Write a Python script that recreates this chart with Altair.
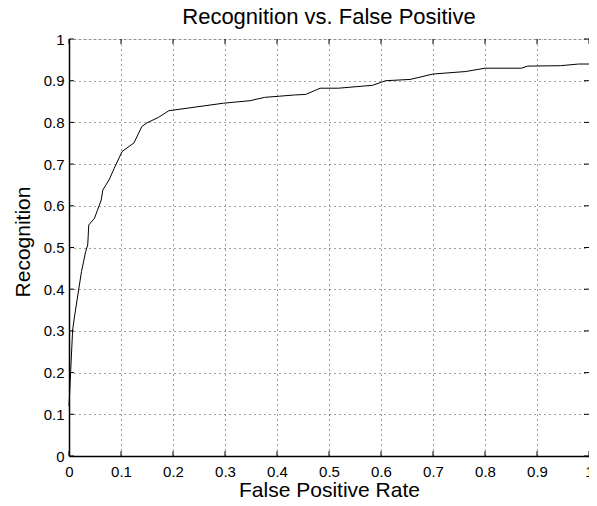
import altair as alt
import pandas as pd

fpr = [0.0, 0.007, 0.011, 0.024, 0.032, 0.036, 0.038, 0.049, 0.062, 0.065, 0.077, 0.087,
       0.102, 0.125, 0.140, 0.150, 0.172, 0.192, 0.297, 0.348, 0.376, 0.436, 0.455, 0.483,
       0.518, 0.584, 0.609, 0.656, 0.700, 0.763, 0.800, 0.870, 0.882, 0.945, 0.980, 1.0]
rec = [0.12, 0.302, 0.338, 0.442, 0.49, 0.506, 0.554, 0.570, 0.614, 0.638, 0.662, 0.690,
       0.730, 0.751, 0.790, 0.799, 0.812, 0.828, 0.846, 0.852, 0.860, 0.866, 0.867, 0.882,
       0.882, 0.889, 0.900, 0.903, 0.916, 0.922, 0.930, 0.930, 0.935, 0.936, 0.940, 0.940]
tick_values = [0, 0.1, 0.2, 0.3, 0.4, 0.5, 0.6, 0.7, 0.8, 0.9, 1.0]

W, H = 520, 417
FONT = "Liberation Sans"

df = pd.DataFrame({"fpr": fpr, "rec": rec})
ticks = pd.DataFrame({"t": tick_values})

xs = alt.Scale(domain=[0, 1], nice=False)
ys = alt.Scale(domain=[0, 1], nice=False)

line = alt.Chart(df).mark_line(color="black", strokeWidth=1).encode(
    x=alt.X("fpr:Q", scale=xs,
            axis=alt.Axis(values=tick_values, format="~g", title="False Positive Rate",
                          grid=True, gridDash=[1, 4], gridColor="#000", gridOpacity=0.75,
                          tickSize=0, labelPadding=8, titlePadding=0,
                          labelFontSize=15, titleFontSize=21, labelFont=FONT, titleFont=FONT,
                          labelColor="black", titleColor="black", titleFontWeight="normal",
                          domainColor="black", domainWidth=1.5, labelFlush=False)),
    y=alt.Y("rec:Q", scale=ys,
            axis=alt.Axis(values=tick_values, format="~g", title="Recognition",
                          grid=True, gridDash=[1, 4], gridColor="#000", gridOpacity=0.75,
                          tickSize=0, labelPadding=5, titlePadding=10, titleY=H / 2 - 6,
                          labelFontSize=15, titleFontSize=21, labelFont=FONT, titleFont=FONT,
                          labelColor="black", titleColor="black", titleFontWeight="normal",
                          domainColor="black", domainWidth=1.5, labelFlush=False)),
)

tb = alt.Chart(ticks)
xt_bottom = tb.mark_rule(color="black", strokeWidth=1).encode(
    x=alt.X("t:Q", scale=xs), y=alt.value(H), y2=alt.value(H - 5))
xt_top = tb.mark_rule(color="black", strokeWidth=1).encode(
    x=alt.X("t:Q", scale=xs), y=alt.value(0), y2=alt.value(5))
yt_left = tb.mark_rule(color="black", strokeWidth=1).encode(
    y=alt.Y("t:Q", scale=ys), x=alt.value(0), x2=alt.value(5))
yt_right = tb.mark_rule(color="black", strokeWidth=1).encode(
    y=alt.Y("t:Q", scale=ys), x=alt.value(W), x2=alt.value(W - 5))

chart = alt.layer(line, xt_bottom, xt_top, yt_left, yt_right).properties(
    width=W, height=H,
    title=alt.TitleParams("Recognition vs. False Positive", font=FONT, fontSize=22,
                          fontWeight="normal", color="black", anchor="middle",
                          frame="group", offset=3),
    autosize=alt.AutoSizeParams(type="none"),
    padding={"left": 61, "top": 31, "right": 0, "bottom": 42},
).configure_view(stroke="black", strokeWidth=1.5).configure(background="white")

chart.save("out.html", embed_options={"renderer": "svg", "actions": False})
